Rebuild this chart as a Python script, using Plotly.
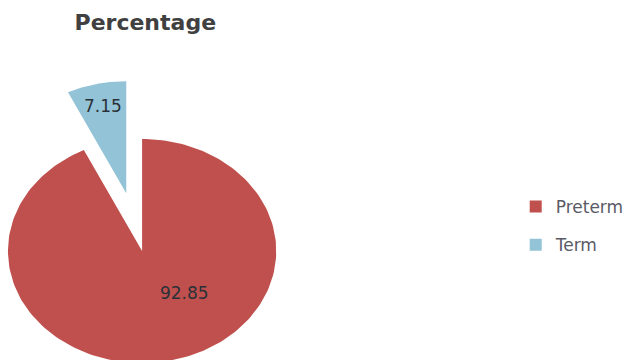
import numpy as np
import plotly.graph_objects as go

# ---- data ----
categories = ["Preterm", "Term"]
values = [92.85, 7.15]
value_labels = ["92.85", "7.15"]
colors = ["#C0504D", "#93C3D6"]
pulls = [0.0, 0.53]
title_text = "Percentage"

# ---- layout constants (pixels) ----
W, H = 629, 360
CX, CY = 143, 251          # pie centre in pixels
RX, RY = 135, 112          # ellipse radii in pixels (stretched picture)
label_pos = [(141.0, 0.50), (None, 0.78)]   # (angle override deg, radius fraction)

fig = go.Figure()

total = float(sum(values))
start = 0.0
for i, (cat, val) in enumerate(zip(categories, values)):
    span = val / total * 360.0
    th = np.radians(np.linspace(start, start + span, 200))
    mid = np.radians(start + span / 2.0)
    ox, oy = pulls[i] * np.sin(mid), pulls[i] * np.cos(mid)
    xs = np.concatenate([[0.0], np.sin(th), [0.0]]) + ox
    ys = np.concatenate([[0.0], np.cos(th), [0.0]]) + oy
    fig.add_trace(go.Scatter(
        x=xs, y=ys, fill="toself", mode="lines",
        line=dict(width=0, color=colors[i]), fillcolor=colors[i],
        name=cat, showlegend=False, hoverinfo="text",
        hovertext=f"{cat}: {value_labels[i]}",
    ))
    ang, rf = label_pos[i]
    a = np.radians(ang) if ang is not None else mid
    fig.add_trace(go.Scatter(
        x=[ox + rf * np.sin(a)], y=[oy + rf * np.cos(a)],
        mode="text", text=[value_labels[i]],
        textfont=dict(family="DejaVu Sans", size=17, color="#2a3038"),
        showlegend=False, hoverinfo="skip",
    ))
    start += span

# legend entries
for i, cat in enumerate(categories):
    fig.add_trace(go.Scatter(
        x=[None], y=[None], mode="markers", name=cat,
        marker=dict(symbol="square", size=12, color=colors[i]),
        legendgroup=cat,
    ))

x0 = -CX / RX
x1 = (W - CX) / RX
y1 = CY / RY
y0 = (CY - H) / RY

fig.update_layout(
    width=W, height=H,
    margin=dict(l=0, r=0, t=0, b=0),
    paper_bgcolor="white", plot_bgcolor="white",
    xaxis=dict(range=[x0, x1], visible=False, fixedrange=True),
    yaxis=dict(range=[y0, y1], visible=False, fixedrange=True),
    title=dict(text=title_text, x=75 / W, xanchor="left", xref="paper",
               y=1 - 22 / H, yanchor="middle", yref="container",
               font=dict(family="DejaVu Sans", size=22, color="#404040", weight="bold")),
    legend=dict(x=(559 - 40) / W, xanchor="left", y=1 - 189 / H, yanchor="top",
                font=dict(family="DejaVu Sans", size=17, color="#5a5a66"),
                tracegroupgap=13, bgcolor="rgba(0,0,0,0)"),
    showlegend=True,
)

fig.write_html("out.html")
